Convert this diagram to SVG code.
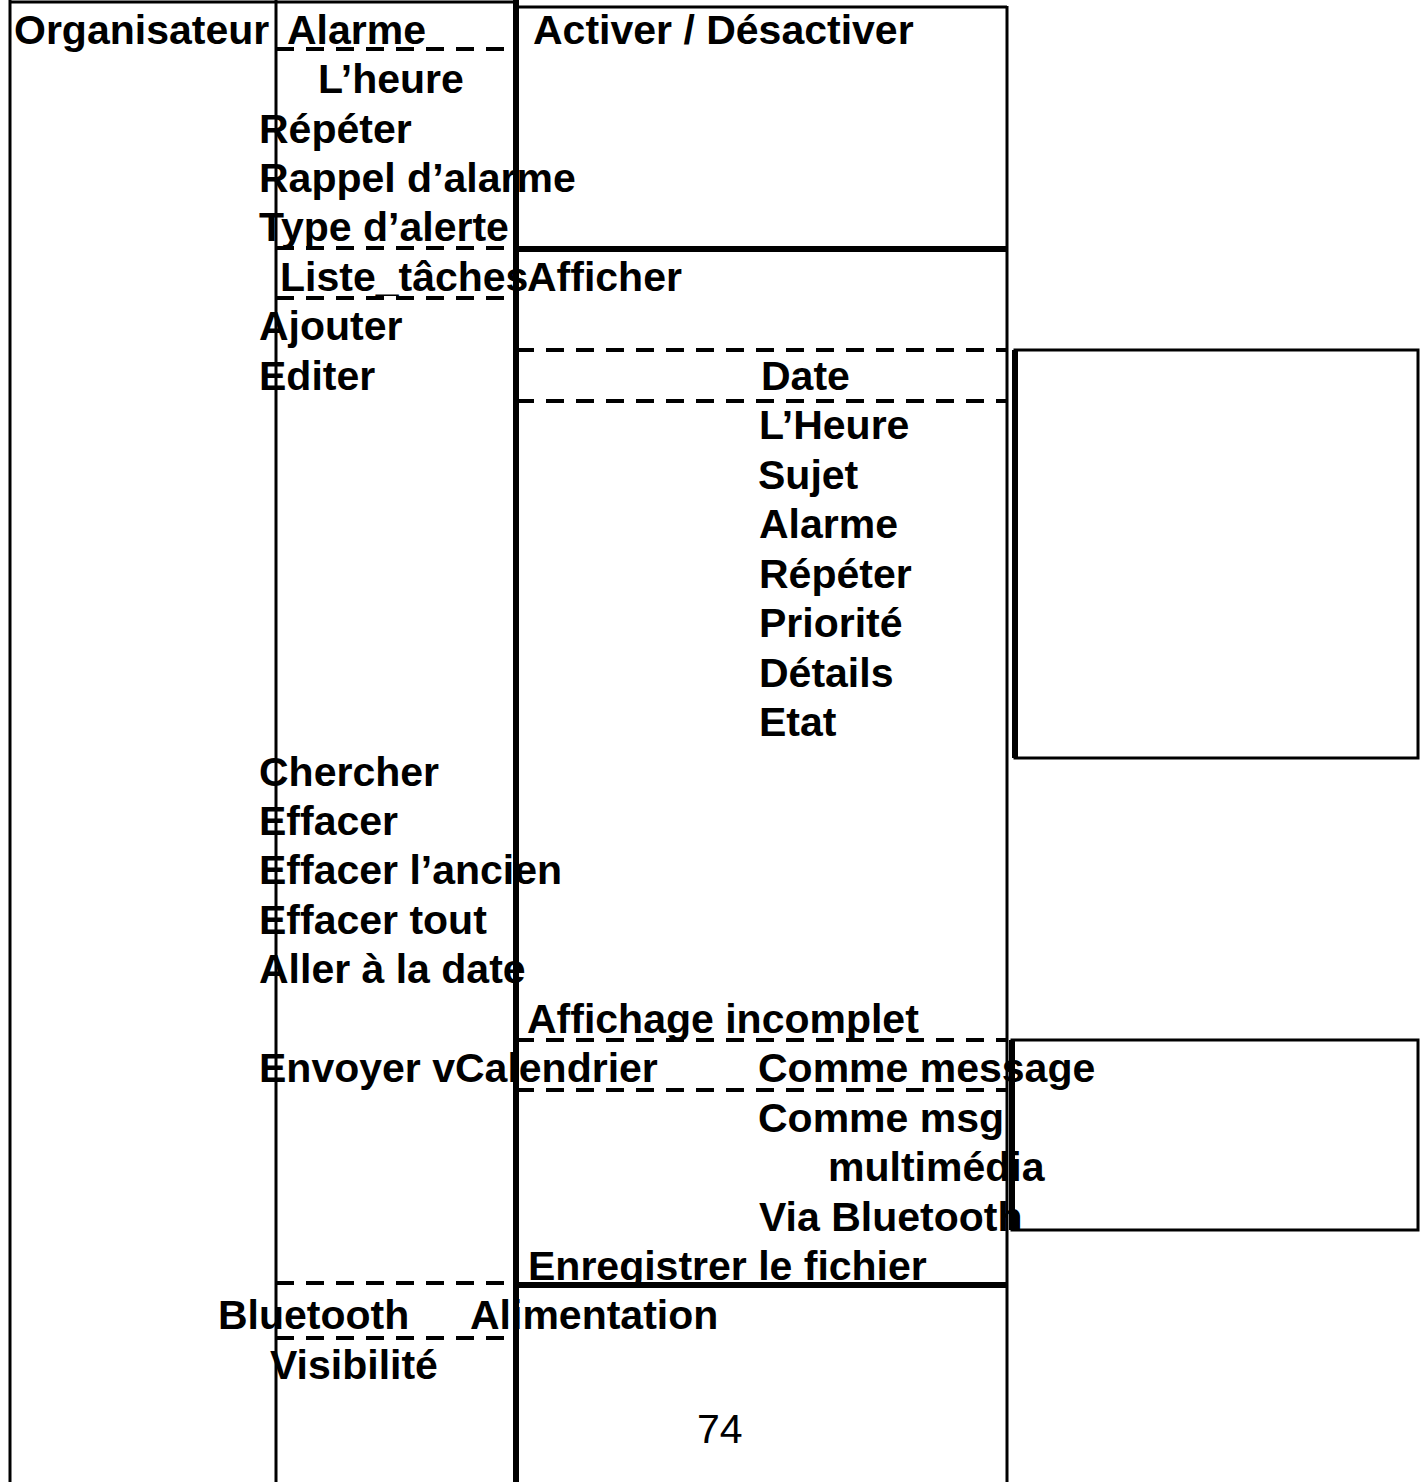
<svg xmlns="http://www.w3.org/2000/svg" width="1426" height="1482" viewBox="0 0 1426 1482">
<style>
text{font-family:"Liberation Sans",Arial,sans-serif;font-weight:bold;font-size:41px;fill:#000}
.n{font-weight:normal}
.thin{stroke:#000;stroke-width:3;fill:none}
.thick{stroke:#000;stroke-width:6;fill:none}
.dash{stroke:#000;stroke-width:4;stroke-dasharray:18,12;fill:none}
</style>
<rect width="1426" height="1482" fill="#fff"/>
<g id="connectors">
<line class="thin" x1="10" y1="0" x2="10" y2="1482"/>
<line class="thin" x1="10" y1="2" x2="516" y2="2"/>
<line class="thin" x1="276" y1="0" x2="276" y2="1482"/>
<line class="thick" x1="516" y1="0" x2="516" y2="1482"/>
<line class="thin" x1="516" y1="7" x2="1007" y2="7"/>
<line class="thin" x1="1007" y1="6" x2="1007" y2="1482"/>
<line class="thick" x1="516" y1="249" x2="1007" y2="249"/>
<line class="thick" x1="516" y1="1285" x2="1007" y2="1285"/>
<line class="dash" x1="276" y1="49" x2="516" y2="49"/>
<line class="dash" x1="276" y1="248" x2="516" y2="248"/>
<line class="dash" x1="276" y1="298" x2="516" y2="298"/>
<line class="dash" x1="516" y1="350" x2="1007" y2="350"/>
<line class="dash" x1="516" y1="401" x2="1007" y2="401"/>
<line class="dash" x1="516" y1="1040" x2="1007" y2="1040"/>
<line class="dash" x1="516" y1="1090" x2="1007" y2="1090"/>
<line class="dash" x1="276" y1="1283" x2="516" y2="1283"/>
<line class="dash" x1="276" y1="1338" x2="516" y2="1338"/>
</g>
<g id="box-detail"><rect class="thin" x="1015" y="350" width="403" height="408"/><line class="thick" x1="1015" y1="350" x2="1015" y2="758"/></g>
<g id="box-send"><rect class="thin" x="1012" y="1040" width="406" height="190"/><line class="thick" x1="1012" y1="1040" x2="1012" y2="1230"/></g>
<g id="labels">
<text x="14" y="44">Organisateur</text>
<text x="287" y="44">Alarme</text>
<text x="533" y="44">Activer / Désactiver</text>
<text x="318" y="93">L’heure</text>
<text x="259" y="143">Répéter</text>
<text x="259" y="192">Rappel d’alarme</text>
<text x="259" y="241">Type d’alerte</text>
<text x="280" y="291">Liste_tâches</text>
<text x="527" y="291">Afficher</text>
<text x="259" y="340">Ajouter</text>
<text x="259" y="390">Editer</text>
<text x="761" y="390">Date</text>
<text x="759" y="439">L’Heure</text>
<text x="758" y="489">Sujet</text>
<text x="759" y="538">Alarme</text>
<text x="759" y="588">Répéter</text>
<text x="759" y="637">Priorité</text>
<text x="759" y="687">Détails</text>
<text x="759" y="736">Etat</text>
<text x="259" y="786">Chercher</text>
<text x="259" y="835">Effacer</text>
<text x="259" y="884">Effacer l’ancien</text>
<text x="259" y="934">Effacer tout</text>
<text x="259" y="983">Aller à la date</text>
<text x="527" y="1033">Affichage incomplet</text>
<text x="259" y="1082">Envoyer vCalendrier</text>
<text x="758" y="1082">Comme message</text>
<text x="758" y="1132">Comme msg</text>
<text x="828" y="1181">multimédia</text>
<text x="759" y="1231">Via Bluetooth</text>
<text x="528" y="1280">Enregistrer le fichier</text>
<text x="218" y="1329">Bluetooth</text>
<text x="470" y="1329">Alimentation</text>
<text x="270" y="1379">Visibilité</text>
<text class="n" x="697" y="1443">74</text>
</g>
</svg>
